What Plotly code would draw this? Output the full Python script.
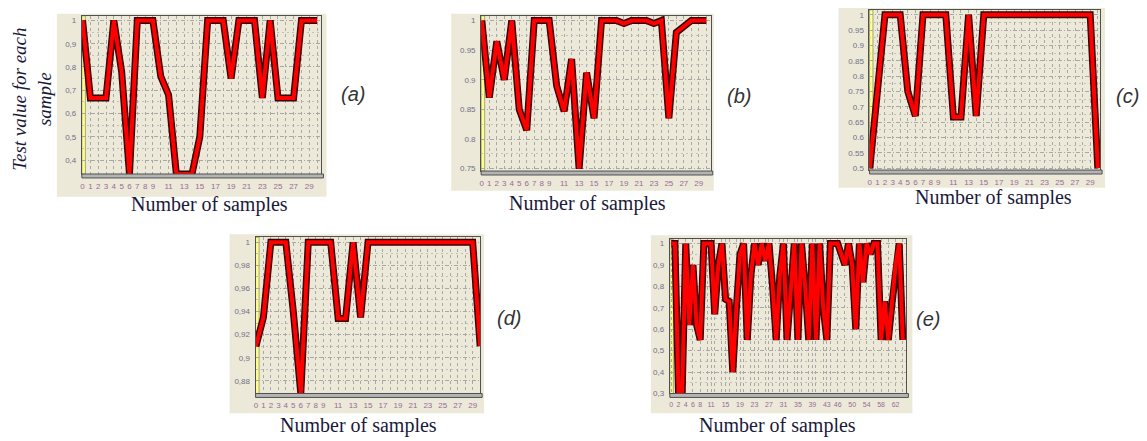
import plotly.graph_objects as go

W, H = 1147, 441

# ---------------- data ----------------
samples_30 = list(range(31))
samples_64 = list(range(65))

a_vals = [1.0, 0.667, 0.667, 0.667, 1.0, 0.78, 0.34, 1.0, 1.0, 1.0,
          0.76, 0.68, 0.34, 0.34, 0.34, 0.5, 1.0, 1.0, 1.0, 0.75,
          1.0, 1.0, 1.0, 0.667, 1.0, 0.667, 0.667, 0.667, 1.0, 1.0, 1.0]
b_vals = [1.0, 0.87, 0.965, 0.90, 1.0, 0.85, 0.815, 1.0, 1.0, 1.0,
          0.89, 0.847, 0.935, 0.75, 0.912, 0.835, 1.0, 1.0, 1.0, 0.995,
          1.0, 1.0, 1.0, 0.995, 1.0, 0.835, 0.98, 0.99, 1.0, 1.0, 1.0]
c_vals = [0.5, 0.75, 1.0, 1.0, 1.0, 0.75, 0.67, 1.0, 1.0, 1.0,
          1.0, 0.667, 0.667, 1.0, 0.67, 1.0, 1.0, 1.0, 1.0, 1.0,
          1.0, 1.0, 1.0, 1.0, 1.0, 1.0, 1.0, 1.0, 1.0, 1.0, 0.5]
d_vals = [0.91, 0.935, 1.0, 1.0, 1.0, 0.94, 0.869, 1.0, 1.0, 1.0,
          1.0, 0.934, 0.934, 1.0, 0.935, 1.0, 1.0, 1.0, 1.0, 1.0,
          1.0, 1.0, 1.0, 1.0, 1.0, 1.0, 1.0, 1.0, 1.0, 1.0, 0.91]
e_vals = [1.0, 1.0, 0.3, 0.3, 1.0, 0.62, 0.9, 0.62, 0.55, 1.0,
          1.0, 1.0, 0.67, 0.9, 1.0, 0.74, 0.73, 0.4, 0.7, 0.95,
          1.0, 0.55, 0.85, 1.0, 0.9, 1.0, 0.92, 1.0, 0.8, 0.55,
          0.85, 1.0, 0.55, 0.8, 1.0, 0.55, 1.0, 0.8, 0.55, 1.0,
          0.55, 1.0, 0.7, 0.55, 1.0, 1.0, 1.0, 0.95, 0.9, 1.0,
          0.9, 0.6, 1.0, 0.82, 1.0, 0.95, 1.0, 1.0, 0.55, 0.73,
          0.55, 0.72, 0.9, 1.0, 0.55]

x_ticks_30 = [0, 1, 2, 3, 4, 5, 6, 7, 8, 9, 11, 13, 15, 17, 19, 21, 23, 25, 27, 29]
x_ticks_64 = [0, 2, 4, 6, 8, 11, 15, 19, 23, 27, 31, 35, 39, 43, 46, 50, 54, 58, 62]

a_yticks = [0.4, 0.5, 0.6, 0.7, 0.8, 0.9, 1.0]
a_ylabels = ["0,4", "0,5", "0,6", "0,7", "0,8", "0,9", "1"]
b_yticks = [0.75, 0.8, 0.85, 0.9, 0.95, 1.0]
b_ylabels = ["0.75", "0.8", "0.85", "0.9", "0.95", "1"]
c_yticks = [0.5, 0.55, 0.6, 0.65, 0.7, 0.75, 0.8, 0.85, 0.9, 0.95, 1.0]
c_ylabels = ["0.5", "0.55", "0.6", "0.65", "0.7", "0.75", "0.8", "0.85", "0.9", "0.95", "1"]
d_yticks = [0.88, 0.9, 0.92, 0.94, 0.96, 0.98, 1.0]
d_ylabels = ["0,88", "0,9", "0,92", "0,94", "0,96", "0,98", "1"]
e_yticks = [0.3, 0.4, 0.5, 0.6, 0.7, 0.8, 0.9, 1.0]
e_ylabels = ["0,3", "0,4", "0,5", "0,6", "0,7", "0,8", "0,9", "1"]

panel_letters = ["(a)", "(b)", "(c)", "(d)", "(e)"]
x_title = "Number of samples"
y_title = "Test value for each<br>sample"

# ---------------- layout helpers ----------------
def fx(px):
    return px / W

def fy(py):
    return 1 - py / H

BEIGE = "#ECE9D8"
GRID = "#A8A8A8"
GRID_MINOR = "#C0C0C0"

panels = [
    dict(y=a_vals, x=samples_30, box=(80, 320, 16, 176), outer=(55, 325, 14, 199),
         xr=[-0.09, 30.56], yr=[0.34, 1.02], xt=x_ticks_30, yt=a_yticks, yl=a_ylabels,
         lab=(352, 95), tit=(208, 207), xgs=1, xfs=8),
    dict(y=b_vals, x=samples_30, box=(480, 710, 16, 173), outer=(450, 713, 14, 193),
         xr=[-0.09, 30.6], yr=[0.746, 1.008], xt=x_ticks_30, yt=b_yticks, yl=b_ylabels,
         lab=(738, 97), tit=(587, 206), xgs=1, xfs=8),
    dict(y=c_vals, x=samples_30, box=(869, 1100, 10, 172), outer=(838, 1105, 8, 190),
         xr=[-0.04, 30.3], yr=[0.494, 1.016], xt=x_ticks_30, yt=c_yticks, yl=c_ylabels,
         lab=(1127, 97), tit=(993, 200), xgs=1, xfs=8),
    dict(y=d_vals, x=samples_30, box=(254, 479, 240, 398), outer=(228, 483, 237, 418),
         xr=[-0.05, 30.0], yr=[0.869, 1.0043], xt=x_ticks_30, yt=d_yticks, yl=d_ylabels,
         lab=(508, 322), tit=(357, 430), xgs=1, xfs=8),
    dict(y=e_vals, x=samples_64, box=(669, 906, 242, 398), outer=(650, 912, 238, 418),
         xr=[-0.4, 65.0], yr=[0.3, 1.02], xt=x_ticks_64, yt=e_yticks, yl=e_ylabels,
         lab=(928, 323), tit=(777, 430), xgs=2, xfs=7),
]

fig = go.Figure()
shapes = []
annotations = []
layout_axes = {}

for i, p in enumerate(panels, start=1):
    xa = "x" if i == 1 else f"x{i}"
    ya = "y" if i == 1 else f"y{i}"
    x0, x1, y0, y1 = p["box"]
    ox0, ox1, oy0, oy1 = p["outer"]

    shapes.append(dict(type="rect", xref="paper", yref="paper",
                       x0=fx(ox0), x1=fx(ox1), y0=fy(oy1), y1=fy(oy0),
                       fillcolor=BEIGE, line=dict(width=0), layer="below"))
    shapes.append(dict(type="rect", xref=f"{xa} domain", yref=f"{ya} domain",
                       x0=0, x1=3.5 / (x1 - x0), y0=0, y1=1,
                       fillcolor="#FFFF8C", line=dict(color="#707050", width=0.6), layer="below"))
    shapes.append(dict(type="rect", xref="paper", yref="paper",
                       x0=fx(x0), x1=fx(x1 + 2), y0=fy(y1 + 4), y1=fy(y1),
                       fillcolor="#B4B4B4", line=dict(color="#505050", width=1), layer="above"))

    fig.add_trace(go.Scatter(x=p["x"], y=p["y"], mode="lines", xaxis=xa, yaxis=ya,
                             line=dict(color="#3A0000", width=7), showlegend=False,
                             hoverinfo="skip"))
    fig.add_trace(go.Scatter(x=p["x"], y=p["y"], mode="lines", xaxis=xa, yaxis=ya,
                             line=dict(color="#FF0000", width=4), showlegend=False))

    ymid = [(a + b) / 2 for a, b in zip(p["yt"][:-1], p["yt"][1:])]
    layout_axes["xaxis" if i == 1 else f"xaxis{i}"] = dict(
        domain=[fx(x0), fx(x1)], range=p["xr"], anchor=ya,
        tickmode="array", tickvals=p["xt"], ticktext=[str(v) for v in p["xt"]],
        tickfont=dict(size=p["xfs"], color="#9A6A9A", family="Liberation Sans"),
        tickangle=0, ticks="", ticklabelstandoff=4,
        showgrid=True, gridcolor=GRID, griddash="3px,3px", gridwidth=1,
        minor=dict(showgrid=True, dtick=p["xgs"], tick0=0, gridcolor=GRID,
                   griddash="3px,3px", gridwidth=1),
        showline=True, mirror=True, linecolor="#505050", linewidth=1, zeroline=False,
        fixedrange=True,
    )
    layout_axes["yaxis" if i == 1 else f"yaxis{i}"] = dict(
        domain=[fy(y1), fy(y0)], range=p["yr"], anchor=xa,
        tickmode="array", tickvals=p["yt"], ticktext=p["yl"],
        tickfont=dict(size=8, color="#707088", family="Liberation Sans"),
        ticks="", ticklabelstandoff=3,
        showgrid=True, gridcolor=GRID, griddash="4px,2px,1px,2px", gridwidth=1,
        minor=dict(showgrid=True, tickvals=ymid, gridcolor=GRID_MINOR,
                   griddash="2px,3px", gridwidth=1),
        showline=True, mirror=True, linecolor="#505050", linewidth=1, zeroline=False,
        fixedrange=True,
    )

    tx, ty = p["tit"]
    annotations.append(dict(xref="paper", yref="paper", x=fx(tx), y=fy(ty),
                            text=x_title, showarrow=False, xanchor="center", yanchor="middle",
                            font=dict(family="Liberation Serif", size=20, color="#1A1A3A")))
    lx, ly = p["lab"]
    annotations.append(dict(xref="paper", yref="paper", x=fx(lx), y=fy(ly),
                            text=f"<i>{panel_letters[i-1]}</i>", showarrow=False,
                            xanchor="center", yanchor="middle",
                            font=dict(family="Liberation Sans", size=20, color="#333333")))

annotations.append(dict(xref="paper", yref="paper", x=fx(30), y=fy(100),
                        text=f"<i>{y_title}</i>", showarrow=False, textangle=-90,
                        xanchor="center", yanchor="middle",
                        font=dict(family="Liberation Serif", size=19, color="#1A1A3A")))

fig.update_layout(
    width=W, height=H, margin=dict(l=0, r=0, t=0, b=0),
    paper_bgcolor="white", plot_bgcolor=BEIGE,
    shapes=shapes, annotations=annotations, showlegend=False,
    **layout_axes,
)

fig.write_html("out.html", config={"displayModeBar": False},
               post_script="document.body.style.margin='0px';")
